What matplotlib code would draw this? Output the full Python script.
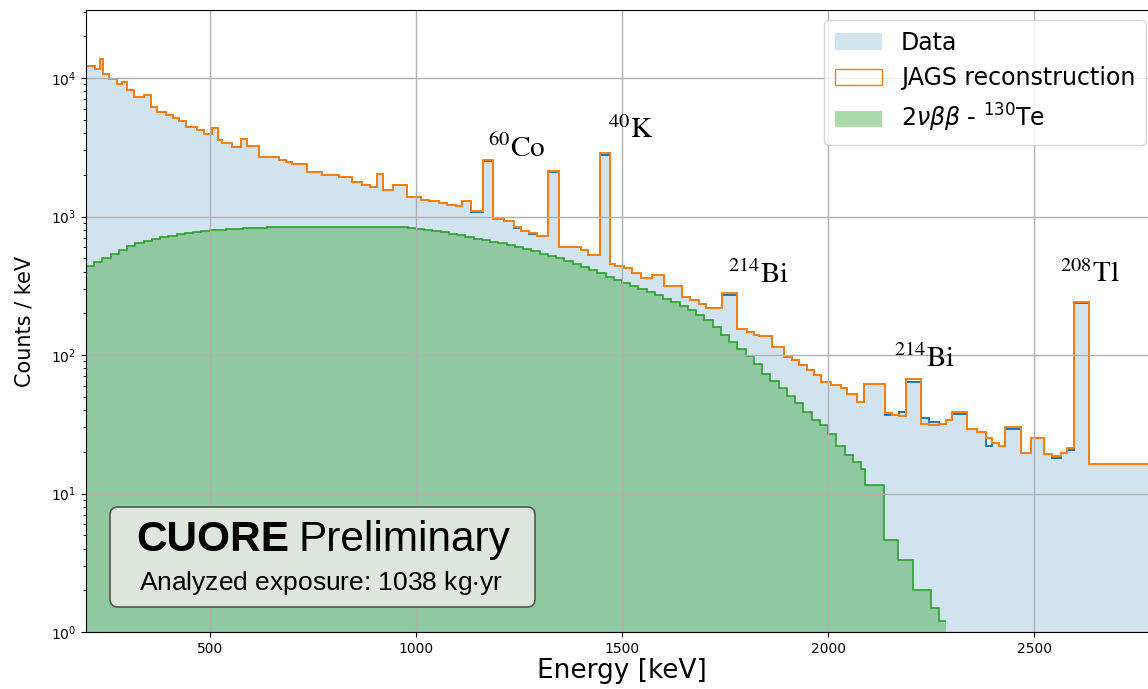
import numpy as np
import matplotlib.pyplot as plt
from matplotlib.patches import Patch, FancyBboxPatch

# measured spectrum (variable binning), keV
edges = [200, 222, 233, 241, 256, 276, 288, 300, 316, 341, 357, 373, 393, 410, 426, 442,
         470, 486, 505, 519, 531, 555, 575, 591, 620, 668, 684, 700, 737, 773, 814, 846,
         870, 890, 905, 920, 945, 979, 1012, 1032, 1056, 1076, 1097, 1113, 1133, 1164, 1188,
         1214, 1238, 1254, 1274, 1295, 1320, 1347, 1375, 1400, 1417, 1446, 1472, 1484, 1505,
         1525, 1545, 1573, 1602, 1646, 1666, 1686, 1703, 1743, 1780, 1804, 1820, 1832, 1864,
         1893, 1913, 1929, 1949, 1965, 1982, 2006, 2030, 2046, 2071, 2087, 2137, 2155, 2171,
         2188, 2224, 2244, 2268, 2285, 2301, 2337, 2362, 2382, 2398, 2414, 2430, 2467, 2491,
         2523, 2543, 2564, 2580, 2596, 2632, 2800]

reco = [12200, 11600, 13700, 10700, 9800, 9000, 9300, 8200, 7300, 7500, 6200, 5700, 5400, 5130,
        4900, 4440, 4210, 3920, 4370, 3570, 3370, 3190, 3630, 3240, 2700, 2560, 2470, 2380,
        2090, 1990, 1920, 1765, 1690, 1640, 2020, 1550, 1690, 1375, 1315, 1300, 1258, 1210,
        1190, 1295, 1100, 2560, 955, 929, 836, 790, 757, 723, 2130, 605, 600, 573, 527, 2860,
        455, 440, 423, 389, 358, 378, 315, 264, 250, 232, 217, 279, 153, 147, 140, 137, 115,
        97, 92, 85, 78, 72, 64, 61, 57.5, 52, 46, 62, 38, 37, 36, 66.8, 31.8, 31.2, 32, 34,
        38.5, 29.2, 27.9, 25, 23, 22, 30.4, 19.7, 25, 19.2, 18.7, 19.5, 21.2, 240, 16.3]

data = [12200, 11600, 13700, 10700, 9800, 9000, 9300, 8200, 7300, 7500, 6200, 5700, 5400, 5130,
        4900, 4440, 4210, 3920, 4370, 3570, 3370, 3190, 3630, 3240, 2700, 2560, 2470, 2380,
        2090, 1990, 1920, 1765, 1690, 1640, 2020, 1550, 1690, 1375, 1315, 1300, 1258, 1210,
        1190, 1295, 1075, 2500, 955, 929, 830, 790, 750, 723, 2080, 605, 600, 573, 527, 2800,
        455, 440, 423, 389, 358, 378, 315, 264, 250, 232, 217, 272, 153, 147, 140, 137, 115,
        97, 92, 85, 78, 72, 64, 61, 57.5, 52, 46, 62, 37, 37, 39, 64, 34.9, 33, 32, 34,
        37.5, 29.2, 27.9, 22, 23, 22, 29, 19.7, 25, 19.2, 17.9, 19.5, 20.5, 236, 16.3]

# 2vbb 130Te component
bb_edges = list(range(200, 2100, 20)) + [2090, 2135, 2170, 2205, 2250, 2268, 2285]
bb_edges = sorted(set(bb_edges))
bb = [440, 470, 505, 540, 575, 610, 640, 665, 690, 710, 728, 745, 760, 775, 787, 797, 806, 813,
      819, 824, 828, 832, 835, 837, 839, 840, 841, 842, 843, 845, 846, 847, 847, 847, 846, 845,
      843, 841, 838, 830, 818, 805, 790, 770, 750, 730, 712, 692, 672, 655, 640, 622, 602, 582,
      560, 538, 520, 500, 478, 455, 432, 410, 388, 368, 350, 333, 317, 300, 285, 270, 255, 240,
      226, 210, 195, 178, 160, 140, 124, 110, 98, 86, 73, 65, 58, 51, 45, 39, 34, 31, 27, 22,
      19, 17, 15, 11.5, 4.6, 3.3, 2.0, 1.5, 1.2]

peaks = ["$^{60}$Co", "$^{40}$K", "$^{214}$Bi", "$^{214}$Bi", "$^{208}$Tl"]
peak_x = [1174, 1467, 1756, 2159, 2563]
peak_y = [2690, 3690, 331, 82, 337]

plt.rcParams['mathtext.fontset'] = 'stix'

fig = plt.figure(figsize=(11.48, 6.89), dpi=100)
ax = fig.add_axes([86 / 1148, 57 / 689, 1072 / 1148, 622 / 689])

ax.stairs(data, edges, fill=True, color='tab:blue', alpha=0.2, baseline=0.1, lw=0)
ax.stairs(bb, bb_edges, fill=True, color='tab:green', alpha=0.4, baseline=0.1, lw=0)
ax.stairs(bb, bb_edges, color='tab:green', lw=1.2, baseline=None)
ax.stairs(data, edges, color='tab:blue', lw=1.4, baseline=None)
ax.stairs(reco, edges, color='tab:orange', lw=1.4, baseline=None)

ax.set_yscale('log')
ax.set_xlim(200, 2800)
ax.set_ylim(1, 3.1e4)
ax.set_xticks([500, 1000, 1500, 2000, 2500])
ax.grid(True, color='#b0b0b0', lw=1)
ax.tick_params(labelsize=10)
ax.set_xlabel("Energy [keV]", fontsize=19, labelpad=2)
ax.set_ylabel("Counts / keV", fontsize=15, labelpad=12)

for lab, x, y in zip(peaks, peak_x, peak_y):
    ax.text(x, y, lab, fontsize=21, family='STIXGeneral', ha='left', va='baseline')

handles = [Patch(facecolor='tab:blue', alpha=0.2, edgecolor='none'),
           Patch(facecolor='none', edgecolor='tab:orange'),
           Patch(facecolor='tab:green', alpha=0.4, edgecolor='none')]
labels = ["Data", "JAGS reconstruction", r"2$\nu\beta\beta$ - $^{130}$Te"]
with plt.rc_context({'mathtext.fontset': 'dejavusans'}):
    ax.legend(handles, labels, loc='upper right', fontsize=17, borderaxespad=0,
              labelspacing=0.5, borderpad=0.45,
              bbox_to_anchor=(1146 / 1148, 1 - 20 / 689), bbox_transform=fig.transFigure)

box = FancyBboxPatch((1.10, 0.82), 4.25, 1.00, boxstyle="round,pad=0,rounding_size=0.08",
                     transform=fig.dpi_scale_trans, facecolor='#dce6dd', edgecolor='#555555',
                     lw=1.2, zorder=5)
fig.patches.append(box)
fig.text(136 / 1148, 1 - 540 / 689, "CUORE", fontsize=30.5, fontweight='bold',
         family='Liberation Sans', va='center', ha='left', zorder=6)
fig.text(298 / 1148, 1 - 540 / 689, "Preliminary", fontsize=30.5,
         family='Liberation Sans', va='center', ha='left', zorder=6)
fig.text(321 / 1148, 1 - 583 / 689, "Analyzed exposure: 1038 kg$\\cdot$yr", fontsize=19,
         family='Liberation Sans', va='center', ha='center', zorder=6)

fig.savefig("out.png", dpi=100)
